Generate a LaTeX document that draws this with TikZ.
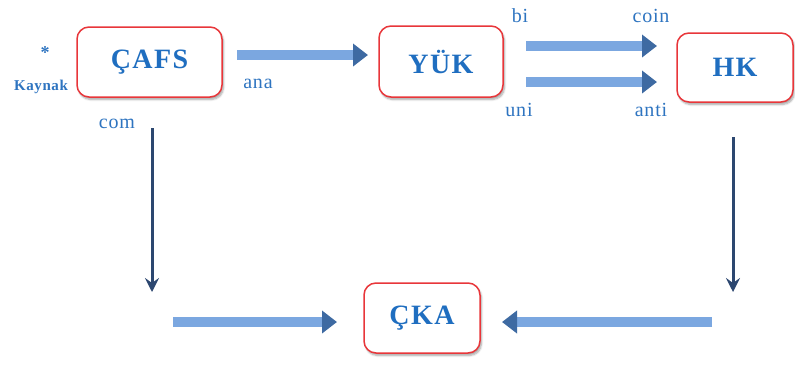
\documentclass[tikz,border=0pt]{standalone}
\usepackage{fontspec}
\setmainfont{Liberation Serif}
\newfontfamily\boxfont[LetterSpace=5]{Liberation Serif}
\newfontfamily\labelfont[LetterSpace=4]{Liberation Serif}
\usetikzlibrary{arrows.meta,shadows.blur}

\definecolor{boxred}{HTML}{E8363A}
\definecolor{textblue}{HTML}{1F6EC0}
\definecolor{labelblue}{HTML}{2E74C0}
\definecolor{fatblue}{HTML}{7BA7E0}
\definecolor{fathead}{HTML}{3E6AA2}
\definecolor{navy}{HTML}{2C4770}

\tikzset{
  stagebox/.style={draw=boxred, line width=1.5pt, rounded corners=12pt, fill=white,
    blur shadow={shadow xshift=1.5pt, shadow yshift=-2.5pt, shadow blur steps=6, shadow opacity=35},
    text=textblue, font=\boxfont\bfseries\fontsize{28}{30}\selectfont, inner sep=0pt},
  tag/.style={text=labelblue, font=\labelfont\fontsize{20}{22}\selectfont, inner sep=0pt},
  fatarrow/.style={line width=10pt, draw=fatblue, -{Triangle[width=22pt,length=15pt,color=fathead]}},
  thinarrow/.style={line width=3pt, draw=navy, -{Stealth[width=14pt,length=14pt,inset=5pt]}}
}

\begin{document}
\begin{tikzpicture}[x=1pt,y=-1pt]
\useasboundingbox (0,0) rectangle (795,365);

% stages
\node[stagebox, minimum width=145pt, minimum height=70pt] (cafs) at (149.5,62) {ÇAFS};
\node[stagebox, minimum width=124pt, minimum height=71pt] (yuk) at (441,61.5) {YÜK};
\node[stagebox, minimum width=116pt, minimum height=69pt] (hk) at (735,67.5) {HK};
\node[stagebox, minimum width=116pt, minimum height=70pt] (cka) at (422,318) {ÇKA};

% arrow end points
\coordinate (anaA) at (237,55);   \coordinate (anaB) at (368,55);
\coordinate (biA) at (526,46);    \coordinate (biB) at (657,46);
\coordinate (uniA) at (526,82);   \coordinate (uniB) at (657,82);
\coordinate (blA) at (173,322);   \coordinate (blB) at (337,322);
\coordinate (brA) at (712,322);   \coordinate (brB) at (502,322);
\coordinate (dlA) at (152,128);   \coordinate (dlB) at (152,292);
\coordinate (drA) at (733,137);   \coordinate (drB) at (733,292);

% connectors
\draw[fatarrow] (anaA) -- (anaB);
\draw[fatarrow] (biA) -- (biB);
\draw[fatarrow] (uniA) -- (uniB);
\draw[fatarrow] (blA) -- (blB);
\draw[fatarrow] (brA) -- (brB);
\draw[thinarrow] (dlA) -- (dlB);
\draw[thinarrow] (drA) -- (drB);

% labels
\node[tag, font=\bfseries\fontsize{18}{20}\selectfont] (star) at (45,53) {*};
\node[tag, font=\labelfont\bfseries\fontsize{15}{18}\selectfont] (kaynak) at (41,87) {Kaynak};
\node[tag] (ana) at (258,84) {ana};
\node[tag] (com) at (117,124) {com};
\node[tag] (bi) at (520,16) {bi};
\node[tag] (coin) at (651,16) {coin};
\node[tag] (uni) at (519,110) {uni};
\node[tag] (anti) at (651,110) {anti};
\end{tikzpicture}
\end{document}
